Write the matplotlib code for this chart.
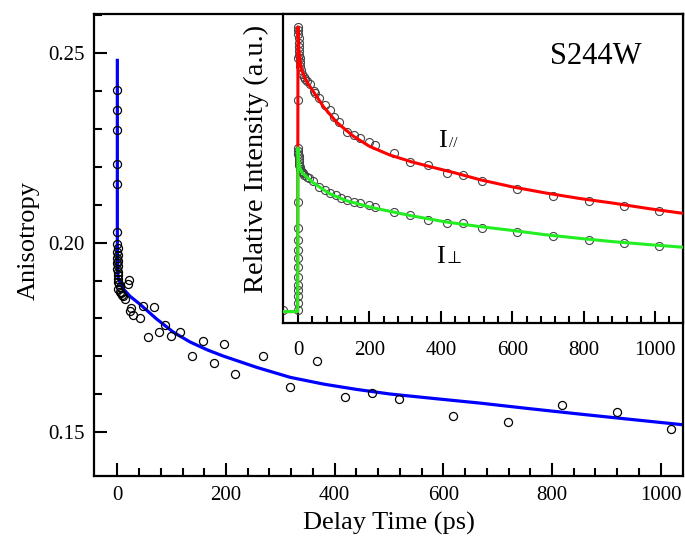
import matplotlib
matplotlib.use("Agg")
import matplotlib.pyplot as plt
from matplotlib.ticker import MultipleLocator

plt.rcParams["font.family"] = ["Liberation Serif", "DejaVu Serif"]

# %%
# Anisotropy data (main panel)
t_aniso = [0, 0, 0, 0, 0, 0, 0, 1, 0, 1, 0, 1, 0, 2, 0, 1, 2, 1, 2, 3, 4, 2, 5, 7, 9, 11, 14,
           20, 22, 23, 26, 29, 41, 48, 57, 68, 77, 87, 98, 116, 137, 157, 177, 196, 217,
           268, 318, 368, 419, 468, 519, 618, 719, 819, 919, 1019]
r_aniso = [0.2402, 0.2350, 0.2296, 0.2206, 0.2153, 0.2027, 0.1995, 0.1985, 0.1975, 0.1968,
           0.1960, 0.1952, 0.1945, 0.1938, 0.1930, 0.1922, 0.1915, 0.1905, 0.1897, 0.1890,
           0.1884, 0.1878, 0.1870, 0.1866, 0.1862, 0.1858, 0.1852, 0.1891, 0.1902, 0.1819,
           0.1828, 0.1810, 0.1802, 0.1832, 0.1751, 0.1831, 0.1765, 0.1784, 0.1755, 0.1765,
           0.1701, 0.1740, 0.1682, 0.1733, 0.1654, 0.1700, 0.1620, 0.1687, 0.1593, 0.1604,
           0.1587, 0.1543, 0.1527, 0.1573, 0.1553, 0.1510]

# fit curve
t_fit = [0, 0, 0.5, 1.5, 5, 11, 23, 42, 72, 103, 134, 166, 195, 257, 318, 380, 441, 502,
         584, 668, 755, 852, 946, 1041]
r_fit = [0.248, 0.200, 0.1925, 0.1908, 0.1894, 0.1878, 0.1859, 0.1837, 0.1799, 0.1764,
         0.1738, 0.1717, 0.1701, 0.1671, 0.1645, 0.1627, 0.1613, 0.1601, 0.1589, 0.1577,
         0.1563, 0.1548, 0.1534, 0.1520]

y_minor = [0.16, 0.17, 0.18, 0.19, 0.21, 0.22, 0.23, 0.24, 0.26]
x_minor = [40, 80, 120, 160, 240, 280, 320, 360, 440, 480, 520, 560,
           640, 680, 720, 760, 840, 880, 920, 960]
x_minor_in = x_minor + [1040]

# %%
# Intensity data (inset)
t_par = [-41, -1, -1, 0, 1, 1, 2, 2, 3, 3, 4, 5, 6, 7, 9, 12, 16, 20, 26, 35, 44, 49, 58,
         77, 91, 100, 114, 137, 156, 175, 198, 216, 268, 314, 365, 417, 463, 514, 614, 714,
         814, 913, 1011]
i_par = [0.005, 0.743, 0.89, 1.0, 0.99, 0.975, 0.96, 0.945, 0.93, 0.915, 0.90, 0.89, 0.875,
         0.862, 0.85, 0.835, 0.825, 0.817, 0.81, 0.80, 0.775, 0.767, 0.75, 0.726, 0.708,
         0.685, 0.667, 0.632, 0.621, 0.609, 0.597, 0.585, 0.556, 0.527, 0.515, 0.486, 0.478,
         0.457, 0.431, 0.407, 0.389, 0.371, 0.354]

t_perp = [-1, 0, 0, 0, 0, 0, 0, 0, 0, 0, 0, 0, 0, 1, 1, 2, 2, 3, 4, 5, 6, 8, 10, 14, 18,
          24, 32, 41, 60, 75, 89, 107, 121, 137, 156, 175, 198, 216, 268, 314, 365, 417,
          463, 514, 614, 714, 814, 913, 1011]
i_perp = [0.006, 0.029, 0.053, 0.076, 0.094, 0.123, 0.158, 0.188, 0.217, 0.252, 0.293,
          0.386, 0.575, 0.565, 0.555, 0.545, 0.535, 0.525, 0.515, 0.507, 0.50, 0.494, 0.49,
          0.486, 0.48, 0.474, 0.468, 0.457, 0.439, 0.427, 0.418, 0.41, 0.398, 0.392, 0.386,
          0.381, 0.375, 0.369, 0.351, 0.34, 0.322, 0.31, 0.31, 0.293, 0.281, 0.266, 0.252,
          0.24, 0.231]

t_par_fit = [-42, -1, 0, 2, 5.6, 10, 23, 43, 71, 109, 155, 201, 257, 318, 370, 440, 510,
             600, 696, 790, 882, 980, 1078]
i_par_fit = [0.0, 0.0, 1.0, 0.93, 0.884, 0.849, 0.81, 0.773, 0.72, 0.664, 0.616, 0.58,
             0.55, 0.526, 0.509, 0.487, 0.463, 0.438, 0.416, 0.397, 0.381, 0.362, 0.345]

t_perp_fit = [-42, -1, 0, 1.5, 5, 12.7, 25, 40, 60, 87, 134, 208, 320, 413, 506, 600, 692,
              790, 879, 975, 1078]
i_perp_fit = [0.0, 0.0, 0.575, 0.533, 0.505, 0.486, 0.472, 0.455, 0.438, 0.415, 0.39,
              0.365, 0.336, 0.315, 0.299, 0.285, 0.27, 0.257, 0.246, 0.236, 0.226]

# %%
# Generate graph
fig = plt.figure(figsize=(6.85, 5.4), dpi=100)
ax = fig.add_axes([0.1372, 0.1185, 0.8598, 0.8555])

ax.plot(t_fit, r_fit, color="#0000ff", lw=2.3, zorder=2)
ax.plot(t_aniso, r_aniso, "o", mfc="none", mec="black", ms=5.8, mew=0.9, zorder=3)

ax.set_ylim(0.1385, 0.2602)
ax.xaxis.set_major_locator(MultipleLocator(200))
ax.set_xticks(x_minor, minor=True)
ax.set_yticks([0.15, 0.20, 0.25])
ax.set_yticks(y_minor, minor=True)
ax.set_xlim(-43, 1041)
ax.yaxis.set_major_formatter(plt.FormatStrFormatter("%.2f"))
ax.tick_params(which="both", direction="in", width=1.5, labelsize=15, pad=7,
               top=False, right=False)
ax.tick_params(which="major", length=9.4)
ax.tick_params(which="minor", length=5.8)
for s in ax.spines.values():
    s.set_linewidth(1.6)
ax.set_xlabel("Delay Time (ps)", fontsize=19, labelpad=5)
ax.set_ylabel("Anisotropy", fontsize=19)
ax.yaxis.set_label_coords(-0.092, 0.51)

# inset
ax_in = fig.add_axes([0.4131, 0.4019, 0.5839, 0.5721])
ax_in.plot(t_par, i_par, "o", mfc="none", mec="#444444", ms=5.8, mew=0.8, zorder=2)
ax_in.plot(t_perp, i_perp, "o", mfc="none", mec="#444444", ms=5.8, mew=0.8, zorder=2)
ax_in.plot(t_par_fit, i_par_fit, color="#ff0000", lw=2.2, zorder=3)
ax_in.plot(t_perp_fit, i_perp_fit, color="#22ee22", lw=2.2, zorder=4)

ax_in.set_ylim(-0.04, 1.045)
ax_in.xaxis.set_major_locator(MultipleLocator(200))
ax_in.set_xticks(x_minor_in, minor=True)
ax_in.set_xlim(-42, 1078)
ax_in.set_yticks([])
ax_in.tick_params(which="both", direction="in", width=1.5, labelsize=15, pad=13,
                  top=False, right=False)
ax_in.tick_params(which="major", length=8.4)
ax_in.tick_params(which="minor", length=4.8)
for s in ax_in.spines.values():
    s.set_linewidth(1.6)
ax_in.set_ylabel("Relative Intensity (a.u.)", fontsize=20.5)
ax_in.yaxis.set_label_coords(-0.034, 0.53)

ax_in.text(0.782, 0.862, "S244W", transform=ax_in.transAxes, fontsize=22,
           ha="center", va="center")
ax_in.text(0.388, 0.5705, "I", transform=ax_in.transAxes, fontsize=19,
           ha="left", va="baseline")
ax_in.text(0.414, 0.5705, "//", transform=ax_in.transAxes, fontsize=11,
           ha="left", va="baseline")
ax_in.text(0.384, 0.195, "I", transform=ax_in.transAxes, fontsize=19,
           ha="left", va="baseline")
ax_in.text(0.41, 0.195, "\u22a5", transform=ax_in.transAxes, fontsize=12.5,
           ha="left", va="baseline", family=["DejaVu Sans"])

plt.savefig("out.png", dpi=100)
